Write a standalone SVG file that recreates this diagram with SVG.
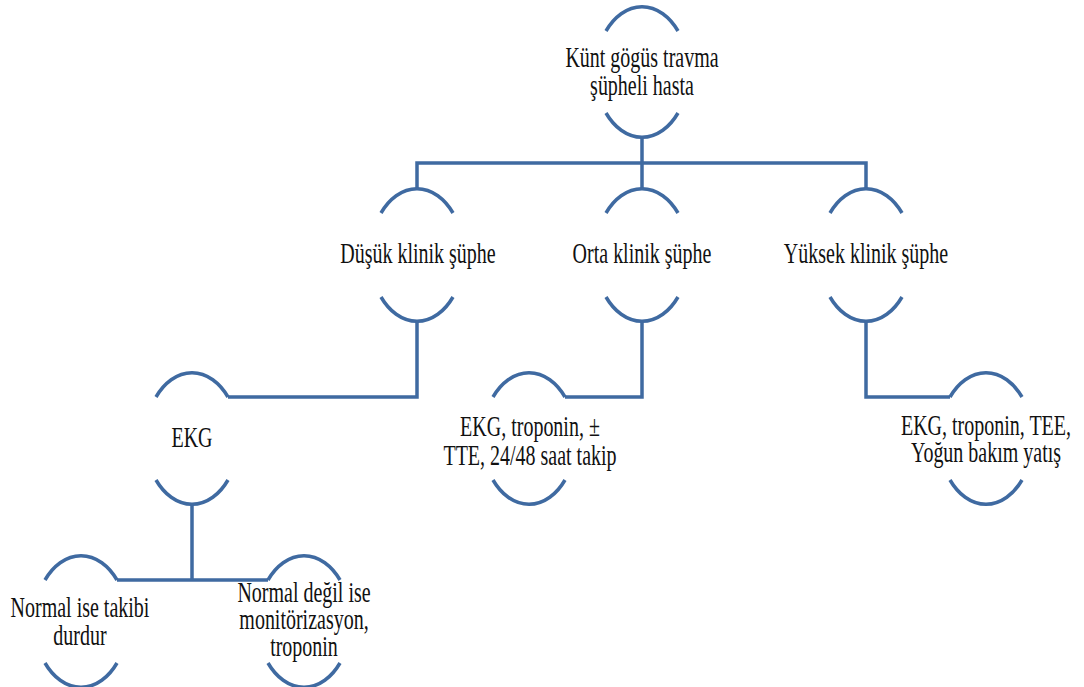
<svg xmlns="http://www.w3.org/2000/svg" width="1084" height="687" viewBox="0 0 1084 687">
<style>
.arc{fill:none;stroke:#3f6aa1;stroke-width:3.5}
.conn{fill:none;stroke:#3f6aa1;stroke-width:3.5;stroke-linejoin:miter}
.t{font-family:"Liberation Serif","Times New Roman",serif;font-size:20px;fill:#111;text-anchor:middle}
</style>
<rect width="1084" height="687" fill="#fff"/>
<g id="connectors">
<path class="conn" d="M642 137 V163 M417 189 V163 H866 V189 M642 163 V189"/>
<path class="conn" d="M417 320 V397 H228"/>
<path class="conn" d="M642 320 V397 H565"/>
<path class="conn" d="M866 320 V397 H950"/>
<path class="conn" d="M192 504 V580 M117 580 H268"/>
</g>
<g id="n0">
<path class="arc" d="M606 31 A47 68 0 0 1 678 31"/>
<path class="arc" d="M606 113 A47 68 0 0 0 678 113"/>
<text class="t" transform="translate(642,66.7) scale(1,1.45)">Künt gögüs travma</text>
<text class="t" transform="translate(642,95) scale(1,1.45)">şüpheli hasta</text>
</g>
<g id="n1">
<path class="arc" d="M381 213 A47 68 0 0 1 453 213"/>
<path class="arc" d="M381 297 A47 68 0 0 0 453 297"/>
<text class="t" transform="translate(418,263) scale(1,1.45)">Düşük klinik şüphe</text>
</g>
<g id="n2">
<path class="arc" d="M606 213 A47 68 0 0 1 678 213"/>
<path class="arc" d="M606 297 A47 68 0 0 0 678 297"/>
<text class="t" transform="translate(642,263) scale(1,1.45)">Orta klinik  şüphe</text>
</g>
<g id="n3">
<path class="arc" d="M830 213 A47 68 0 0 1 902 213"/>
<path class="arc" d="M830 297 A47 68 0 0 0 902 297"/>
<text class="t" transform="translate(866,263) scale(1,1.45)">Yüksek klinik şüphe</text>
</g>
<g id="n4">
<path class="arc" d="M156 397 A47 68 0 0 1 228 397"/>
<path class="arc" d="M156 480 A47 68 0 0 0 228 480"/>
<text class="t" transform="translate(192,447) scale(1,1.45)">EKG</text>
</g>
<g id="n5">
<path class="arc" d="M493 397 A47 68 0 0 1 565 397"/>
<path class="arc" d="M493 480 A47 68 0 0 0 565 480"/>
<text class="t" transform="translate(530,436) scale(1,1.45)">EKG, troponin, ±</text>
<text class="t" transform="translate(530,465) scale(1,1.45)">TTE, 24/48 saat takip</text>
</g>
<g id="n6">
<path class="arc" d="M950 397 A47 68 0 0 1 1022 397"/>
<path class="arc" d="M950 480 A47 68 0 0 0 1022 480"/>
<text class="t" transform="translate(986,435) scale(1,1.45)">EKG, troponin, TEE,</text>
<text class="t" transform="translate(986,462) scale(1,1.45)">Yoğun bakım yatış</text>
</g>
<g id="n7">
<path class="arc" d="M45 580 A47 68 0 0 1 117 580"/>
<path class="arc" d="M45 663 A47 68 0 0 0 117 663"/>
<text class="t" transform="translate(80,617) scale(1,1.45)">Normal ise takibi</text>
<text class="t" transform="translate(80,645) scale(1,1.45)">durdur</text>
</g>
<g id="n8">
<path class="arc" d="M268 580 A47 68 0 0 1 340 580"/>
<path class="arc" d="M268 663 A47 68 0 0 0 340 663"/>
<text class="t" transform="translate(304,602) scale(1,1.45)">Normal değil ise</text>
<text class="t" transform="translate(304,629) scale(1,1.45)">monitörizasyon,</text>
<text class="t" transform="translate(304,656) scale(1,1.45)">troponin</text>
</g>
</svg>
